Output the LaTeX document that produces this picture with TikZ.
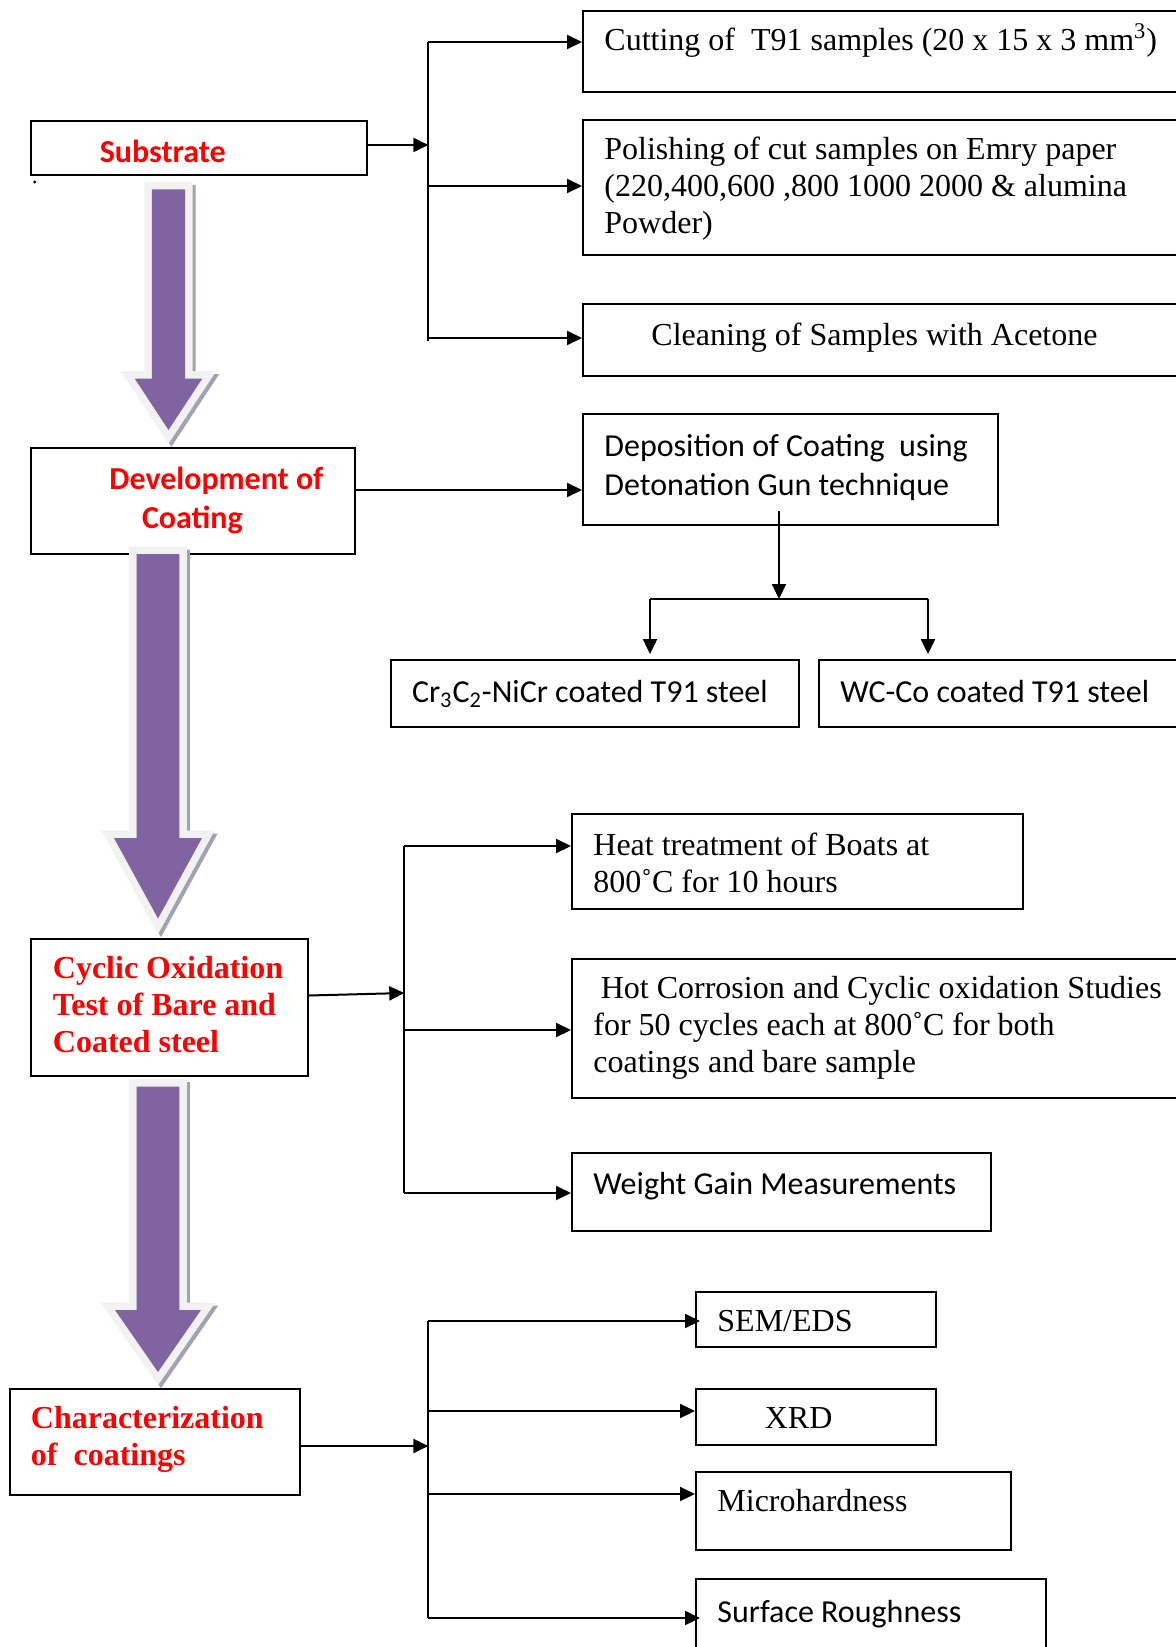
\documentclass[tikz,border=0pt]{standalone}
\usepackage{fontspec}
\setmainfont{Liberation Serif}
\newfontfamily\calfont{Carlito}
\usetikzlibrary{arrows.meta,fit}
\definecolor{arrpurple}{RGB}{128,100,162}
\definecolor{arrborder}{RGB}{242,242,242}
\definecolor{arrshadow}{RGB}{165,160,178}
\definecolor{redtxt}{RGB}{255,0,0}
\newcommand\mlines[1]{\begin{tabular}[t]{@{}l@{}}#1\end{tabular}}
\newcommand\arrowpath[6]{(#1-#5,#2) -- (#1+#5,#2) -- (#1+#5,#3) -- (#1+#6,#3) -- (#1,#4) -- (#1-#6,#3) -- (#1-#5,#3) -- cycle}
\newcommand\fatarrow[6]{%
  \path[draw=arrshadow, fill=arrshadow, line width=7.5pt, line join=miter, shift={(3,3)}] \arrowpath{#1}{#2}{#3}{#4}{#5}{#6};
  \path[draw=arrborder, fill=arrborder, line width=7.5pt, line join=miter] \arrowpath{#1}{#2}{#3}{#4}{#5}{#6};
  \path[fill=arrpurple] \arrowpath{#1}{#2}{#3}{#4}{#5}{#6};
}
\tikzset{
  box/.style={draw, line width=1pt, inner sep=0pt, rectangle},
  conn/.style={line width=1pt},
  arr/.style={line width=1pt, -{Triangle[length=7.5pt,width=7pt]}},
  tser/.style={anchor=base west, inner sep=0pt, font=\fontsize{16}{18.5}\selectfont},
  tcal/.style={anchor=base west, inner sep=0pt, font=\calfont\fontsize{16}{19.5}\selectfont},
  tredser/.style={anchor=base west, inner sep=0pt, text=redtxt, font=\bfseries\fontsize{16}{18.5}\selectfont},
  tredcal/.style={anchor=base west, inner sep=0pt, text=redtxt, font=\calfont\bfseries\fontsize{16}{19.5}\selectfont},
}
\begin{document}
\begin{tikzpicture}[x=0.5pt,y=-0.5pt]
\useasboundingbox (0,0) rectangle (1176,1647);
\fill[white] (0,0) rectangle (1176,1647);
\clip (0,0) rectangle (1176,1647);

% ---------- boxes ----------
\node[box, fit={(30.5,120.8) (366.5,175.4)}] (sub) {};
\node[box, fit={(583,11.5) (1190,92.4)}] (cut) {};
\node[box, fit={(583,120.5) (1190,255)}] (pol) {};
\node[box, fit={(583,304.5) (1190,376)}] (cln) {};
\node[box, fit={(30.5,447.5) (355,554)}] (dev) {};
\node[box, fit={(583,413.7) (997.5,525)}] (dep) {};
\node[box, fit={(390.6,659.5) (799,727)}] (cr) {};
\node[box, fit={(818.5,659.5) (1190,727)}] (wc) {};
\node[box, fit={(30.5,939) (308,1076)}] (cyc) {};
\node[box, fit={(572,813.8) (1022.7,909.3)}] (heat) {};
\node[box, fit={(572,958.7) (1190,1098)}] (hot) {};
\node[box, fit={(572,1153) (991,1230.6)}] (wgt) {};
\node[box, fit={(9.5,1389) (300.3,1495)}] (chr) {};
\node[box, fit={(696,1291.5) (935.6,1347)}] (sem) {};
\node[box, fit={(696,1389) (935.6,1445)}] (xrd) {};
\node[box, fit={(696,1472) (1011,1550)}] (mic) {};
\node[box, fit={(696,1579) (1046,1670)}] (sur) {};

% ---------- texts ----------
\node[tredcal, anchor=base] (tsub) at (162.7,162.3) {Substrate};
\fill (34.7,182) circle (0.8pt);
\node[tser] (tcut) at (604,51) {Cutting of\ \ T91 samples (20 x 15 x 3 mm\textsuperscript{3})};
\node[tser] (tpol) at (604,160) {\mlines{Polishing of cut samples on Emry paper\\(220,400,600 ,800 1000 2000 \& alumina\\Powder)}};
\node[tser] (tcln) at (651,345) {Cleaning of Samples with Acetone};
\node[tredcal] (tdev) at (109,489) {\mlines{Development of\\\hspace*{16.3pt}Coating}};
\node[tcal] (tdep) at (604,456) {\mlines{Deposition of Coating\ \ using\\Detonation Gun technique}};
\node[tcal] (tcr) at (411.6,702) {Cr\textsubscript{3}C\textsubscript{2}-NiCr coated T91 steel};
\node[tcal] (twc) at (840,702) {WC-Co coated T91 steel};
\node[tredser] (tcyc) at (52.5,978) {\mlines{Cyclic Oxidation\\Test of Bare and\\Coated steel}};
\node[tser] (theat) at (593,855) {\mlines{Heat treatment of Boats at\\800˚C for 10 hours}};
\node[tser] (thot) at (593,998) {\mlines{\hspace*{3.7pt}Hot Corrosion and Cyclic oxidation Studies\\for 50 cycles each at 800˚C for both\\coatings and bare sample}};
\node[tcal] (twgt) at (593,1194) {Weight Gain Measurements};
\node[tredser] (tchr) at (30.5,1428) {\mlines{Characterization\\of\ \ coatings}};
\node[tser] (tsem) at (717,1331) {SEM/EDS};
\node[tser] (txrd) at (764.4,1428) {XRD};
\node[tser] (tmic) at (717,1511) {Microhardness};
\node[tcal] (tsur) at (717,1622) {Surface Roughness};

% ---------- connectors ----------
\coordinate (b1t) at (428.4,42);
\coordinate (b1b) at (428.4,341);
\coordinate (b1m) at (428.4,145);
\coordinate (b1p) at (428.4,186);
\coordinate (b1c) at (428.4,338);
\draw[conn] (b1t) -- (b1b);
\draw[arr] (sub.east |- b1m) -- (b1m);
\draw[arr] (b1t) -- (cut.west |- b1t);
\draw[arr] (b1p) -- (pol.west |- b1p);
\draw[arr] (b1c) -- (cln.west |- b1c);

\coordinate (c2) at (0,490);
\draw[arr] (dev.east |- c2) -- (dep.west |- c2);

\coordinate (d1) at (779,511);
\coordinate (d2) at (779,599);
\coordinate (d3l) at (650,599);
\coordinate (d3r) at (928,599);
\draw[arr] (d1) -- (d2);
\draw[conn] (d3l) -- (d3r);
\draw[arr, shorten >=2.2pt] (d3l) -- (cr.north -| d3l);
\draw[arr, shorten >=2.2pt] (d3r) -- (wc.north -| d3r);

\coordinate (b2t) at (404.3,846);
\coordinate (b2b) at (404.3,1193);
\coordinate (b2m) at (404.3,993);
\coordinate (b2h) at (404.3,1030);
\coordinate (c3) at (308,995.5);
\draw[conn] (b2t) -- (b2b);
\draw[arr] (cyc.east |- c3) -- (b2m);
\draw[arr] (b2t) -- (heat.west |- b2t);
\draw[arr] (b2h) -- (hot.west |- b2h);
\draw[arr] (b2b) -- (wgt.west |- b2b);

\coordinate (b3t) at (428.4,1321);
\coordinate (b3b) at (428.4,1618);
\coordinate (b3m) at (428.4,1446);
\coordinate (b3x) at (428.4,1411);
\coordinate (b3h) at (428.4,1494);
\draw[conn] (b3t) -- (b3b);
\draw[arr] (chr.east |- b3m) -- (b3m);
\draw[arr, shorten >=-2.5pt] (b3t) -- (sem.west |- b3t);
\draw[arr] (b3x) -- (xrd.west |- b3x);
\draw[arr] (b3h) -- (mic.west |- b3h);
\draw[arr, shorten >=-2.5pt] (b3b) -- (sur.west |- b3b);

% ---------- big process arrows ----------
\fatarrow{168.5}{189.3}{378.7}{430}{16.7}{33.7}
\fatarrow{158}{554}{838}{918.5}{21.3}{44}
\fatarrow{158}{1086.7}{1310}{1372}{21.3}{43}
\end{tikzpicture}
\end{document}
